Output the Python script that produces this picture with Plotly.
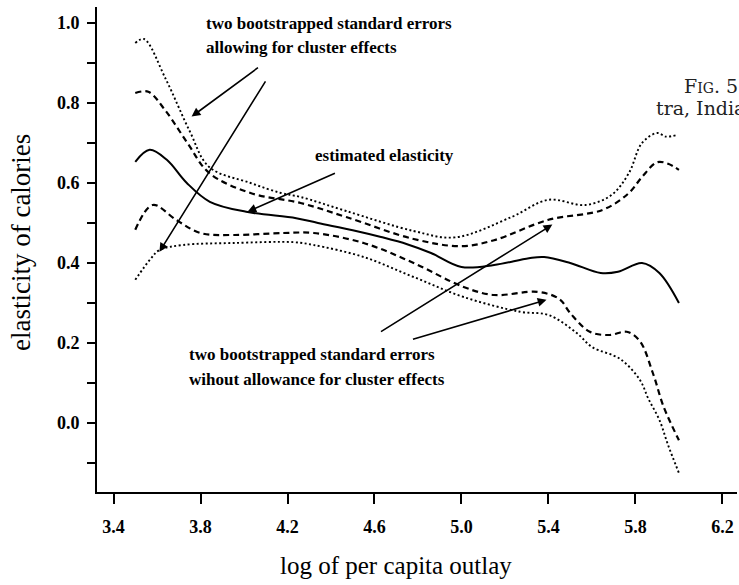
import plotly.graph_objects as go

# ---- data ----
est_x = [3.50, 3.566, 3.645, 3.737, 3.843, 4.01, 4.24, 4.34, 4.50, 4.63, 4.75, 4.86, 5.0, 5.15, 5.31, 5.38, 5.50, 5.64, 5.72, 5.83, 5.91, 6.0]
est_y = [0.653, 0.683, 0.658, 0.60, 0.553, 0.528, 0.512, 0.50, 0.482, 0.465, 0.447, 0.425, 0.39, 0.395, 0.412, 0.415, 0.40, 0.375, 0.378, 0.40, 0.375, 0.30]

cl_hi_x = [3.50, 3.54, 3.64, 3.75, 3.84, 4.03, 4.17, 4.26, 4.47, 4.78, 4.97, 5.23, 5.40, 5.57, 5.69, 5.77, 5.83, 5.90, 5.94, 5.99]
cl_hi_y = [0.95, 0.96, 0.86, 0.73, 0.64, 0.60, 0.575, 0.565, 0.53, 0.48, 0.464, 0.515, 0.558, 0.545, 0.57, 0.625, 0.70, 0.725, 0.716, 0.72]

un_hi_x = [3.50, 3.56, 3.64, 3.74, 3.84, 4.03, 4.26, 4.47, 4.78, 5.00, 5.15, 5.40, 5.65, 5.77, 5.83, 5.90, 5.95, 6.0]
un_hi_y = [0.825, 0.828, 0.78, 0.70, 0.625, 0.575, 0.55, 0.515, 0.46, 0.442, 0.457, 0.508, 0.533, 0.575, 0.615, 0.652, 0.648, 0.633]

un_lo_x = [3.50, 3.58, 3.69, 3.80, 3.95, 4.18, 4.32, 4.55, 4.78, 5.01, 5.15, 5.35, 5.45, 5.50, 5.59, 5.68, 5.76, 5.82, 5.88, 5.93, 6.0]
un_lo_y = [0.483, 0.545, 0.507, 0.475, 0.47, 0.475, 0.475, 0.45, 0.40, 0.34, 0.32, 0.328, 0.31, 0.275, 0.228, 0.22, 0.228, 0.205, 0.125, 0.04, -0.043]

cl_lo_x = [3.50, 3.57, 3.61, 3.72, 3.95, 4.23, 4.32, 4.55, 4.78, 5.01, 5.27, 5.40, 5.53, 5.60, 5.73, 5.82, 5.86, 5.91, 5.95, 6.0]
cl_lo_y = [0.358, 0.41, 0.432, 0.445, 0.45, 0.452, 0.445, 0.415, 0.365, 0.315, 0.278, 0.27, 0.225, 0.19, 0.16, 0.108, 0.06, 0.008, -0.055, -0.125]

x_ticks = [3.4, 3.8, 4.2, 4.6, 5.0, 5.4, 5.8, 6.2]
y_ticks = [0.0, 0.2, 0.4, 0.6, 0.8, 1.0]

# arrows: (tail_x, tail_y, head_x, head_y)
arrows = [
    (4.071, 0.891, 3.759, 0.766),
    (4.103, 0.858, 3.611, 0.428),
    (4.425, 0.626, 4.016, 0.528),
    (4.623, 0.226, 5.418, 0.496),
    (4.770, 0.208, 5.391, 0.308),
]

SERIF = "Liberation Serif"

fig = go.Figure()

def add_line(x, y, dash, width):
    fig.add_trace(go.Scatter(x=x, y=y, mode="lines",
                             line=dict(color="black", width=width, dash=dash,
                                       shape="spline", smoothing=1.0),
                             showlegend=False, hoverinfo="skip"))

add_line(cl_hi_x, cl_hi_y, "2px,2.5px", 1.9)
add_line(un_hi_x, un_hi_y, "6px,4px", 2.2)
add_line(est_x, est_y, "solid", 2.0)
add_line(un_lo_x, un_lo_y, "6px,4px", 2.2)
add_line(cl_lo_x, cl_lo_y, "2px,2.5px", 1.9)

ann = []
for tx, ty, hx, hy in arrows:
    ann.append(dict(x=hx, y=hy, ax=tx, ay=ty, xref="x", yref="y", axref="x", ayref="y",
                    text="", showarrow=True, arrowhead=2, arrowsize=1.1, arrowwidth=1.6,
                    arrowcolor="black", standoff=0))

txt_font = dict(family=SERIF, size=17, color="black", weight="bold")
def label(x, y, t):
    ann.append(dict(x=x, y=y, xref="x", yref="y", text=t, showarrow=False,
                    xanchor="left", yanchor="middle", font=txt_font))

label(3.818, 1.000, "two bootstrapped standard errors")
label(3.818, 0.938, "allowing for cluster effects")
label(4.315, 0.668, "estimated elasticity")
label(3.736, 0.172, "two bootstrapped standard errors")
label(3.736, 0.108, "wihout allowance for cluster effects")

cap_font = dict(family="DejaVu Serif", size=19, color="#222")
ann.append(dict(x=6.016, y=0.842, xref="x", yref="y", showarrow=False, xanchor="left",
                yanchor="middle", font=cap_font,
                text="F<span style='font-size:14px'>IG</span>. 5.4"))
ann.append(dict(x=5.887, y=0.787, xref="x", yref="y", showarrow=False, xanchor="left",
                yanchor="middle", font=cap_font, text="tra, India"))

# axis titles
ann.append(dict(x=0.467, y=-0.152, xref="paper", yref="paper", showarrow=False,
                xanchor="center", yanchor="middle", text="log of per capita outlay",
                font=dict(family=SERIF, size=25, color="black")))
ann.append(dict(x=-0.119, y=0.515, xref="paper", yref="paper", showarrow=False,
                xanchor="center", yanchor="middle", text="elasticity of calories", textangle=-90,
                font=dict(family=SERIF, size=27, color="black")))

fig.update_layout(
    width=739, height=585,
    margin=dict(l=97, r=2, t=7, b=93),
    paper_bgcolor="white", plot_bgcolor="white",
    annotations=ann,
    xaxis=dict(range=[3.324, 6.267], tickvals=x_ticks, ticktext=[f"{v:.1f}" for v in x_ticks],
               showgrid=False, zeroline=False, showline=True, linecolor="black", linewidth=2,
               ticks="outside", ticklen=10, tickwidth=2, tickcolor="black",
               ticklabelstandoff=7,
               tickfont=dict(family=SERIF, size=18, color="black", weight="bold")),
    yaxis=dict(range=[-0.1725, 1.04], tickvals=y_ticks, ticktext=[f"{v:.1f}" for v in y_ticks],
               showgrid=False, zeroline=False, showline=True, linecolor="black", linewidth=2,
               ticks="outside", ticklen=8, tickwidth=2, tickcolor="black",
               ticklabelstandoff=4,
               minor=dict(dtick=0.1, tick0=0.0, ticks="outside", ticklen=8, tickwidth=2,
                          tickcolor="black", showgrid=False),
               tickfont=dict(family=SERIF, size=18, color="black", weight="bold")),
)

fig.write_html("out.html", config={"displayModeBar": False},
               post_script="document.body.style.margin='0px';document.body.style.overflow='hidden';")
